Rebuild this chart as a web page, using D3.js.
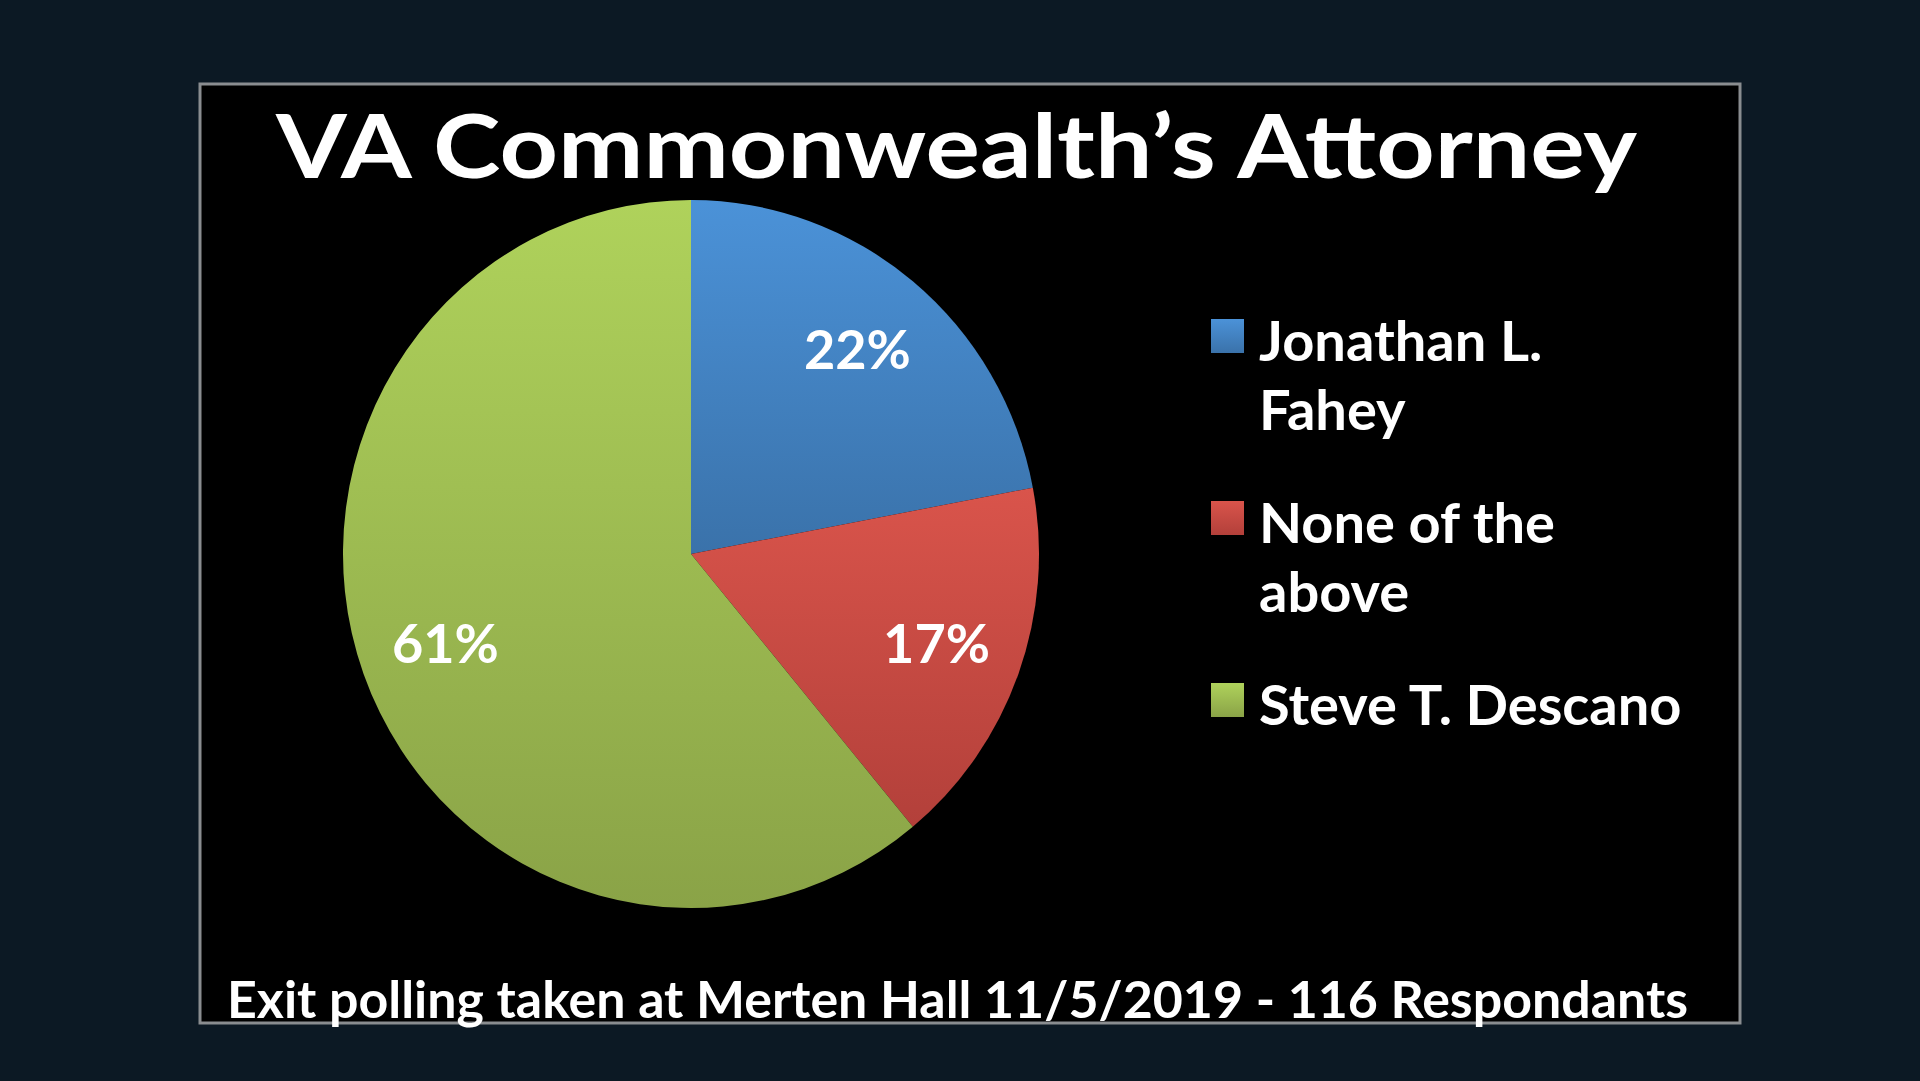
<!DOCTYPE html>
<html>
<head>
<meta charset="utf-8">
<script src="https://cdn.jsdelivr.net/npm/d3@7"></script>
<style>
  html, body { margin: 0; padding: 0; background: #0c1924; overflow: hidden; }
  svg { display: block; }
</style>
</head>
<body>
<script>
// Data
const candidates = ['Jonathan L. Fahey', 'None of the above', 'Steve T. Descano'];
const legendLines = [['Jonathan L.', 'Fahey'], ['None of the', 'above'], ['Steve T. Descano']];
const shares = [22, 17, 61];
const colorsTop = ['#4b92d8', '#d9544b', '#afd25b'];
const colorsBottom = ['#3a72aa', '#b3403a', '#8aa347'];
const titleText = 'VA Commonwealth\u2019s Attorney';
const footerText = 'Exit polling taken at Merten Hall 11/5/2019 - 116 Respondants';

const W = 1920, H = 1081;

const svg = d3.select('body').append('svg')
    .attr('width', W)
    .attr('height', H);

// outer background
svg.append('rect')
    .attr('width', W)
    .attr('height', H)
    .attr('fill', '#0c1924');

// black slide with grey border
svg.append('rect')
    .attr('x', 200)
    .attr('y', 84)
    .attr('width', 1540)
    .attr('height', 939)
    .attr('fill', '#000')
    .attr('stroke', '#8a8d90')
    .attr('stroke-width', 3);

// gradients for the slices
const defs = svg.append('defs');
candidates.forEach((c, i) => {
    const g = defs.append('linearGradient')
        .attr('id', 'grad' + i)
        .attr('x1', 0).attr('y1', 0)
        .attr('x2', 0).attr('y2', 1);
    g.append('stop').attr('offset', '0%').attr('stop-color', colorsTop[i]);
    g.append('stop').attr('offset', '100%').attr('stop-color', colorsBottom[i]);
});

// Title
svg.append('text')
    .attr('x', 276)
    .attr('y', 178)
    .attr('textLength', 1361)
    .attr('lengthAdjust', 'spacingAndGlyphs')
    .style('font-family', 'Lato, "Open Sans", sans-serif')
    .style('font-weight', 700)
    .style('font-size', '88px')
    .style('fill', '#fff')
    .text(titleText);

// Pie
const cx = 691, cy = 554, rx = 348, ry = 354;
const R = 351;

const pie = d3.pie().sort(null).value(d => d);
const arcs = pie(shares);

const arc = d3.arc()
    .innerRadius(0)
    .outerRadius(R);

const labelArc = d3.arc()
    .innerRadius(R * 0.75)
    .outerRadius(R * 0.75);

const pieG = svg.append('g')
    .attr('transform', `translate(${cx},${cy}) scale(${rx / R},${ry / R})`);

pieG.selectAll('path')
    .data(arcs)
    .enter()
    .append('path')
    .attr('d', arc)
    .attr('fill', (d, i) => `url(#grad${i})`);

// slice labels
svg.selectAll('.slice-label')
    .data(arcs)
    .enter()
    .append('text')
    .attr('class', 'slice-label')
    .attr('x', d => cx + labelArc.centroid(d)[0] * rx / R)
    .attr('y', d => cy + labelArc.centroid(d)[1] * ry / R)
    .attr('dy', '0.36em')
    .attr('text-anchor', 'middle')
    .style('font-family', 'Lato, "Open Sans", sans-serif')
    .style('font-weight', 700)
    .style('font-size', '54px')
    .style('fill', '#fff')
    .text(d => d.data + '%');

// Legend
const legend = svg.append('g')
    .attr('transform', 'translate(1211,319)');

const item = legend.selectAll('.item')
    .data(candidates)
    .enter()
    .append('g')
    .attr('class', 'item')
    .attr('transform', (d, i) => `translate(0,${i * 182})`);

item.append('rect')
    .attr('width', 33)
    .attr('height', 34)
    .attr('fill', (d, i) => `url(#grad${i})`);

item.each(function (d, i) {
    const t = d3.select(this).append('text')
        .style('font-family', 'Lato, "Open Sans", sans-serif')
        .style('font-weight', 700)
        .style('font-size', '56px')
        .style('fill', '#fff');
    legendLines[i].forEach((line, j) => {
        t.append('tspan')
            .attr('x', 48)
            .attr('y', 42 + j * 69)
            .text(line);
    });
});

// Footer
svg.append('text')
    .attr('x', 227)
    .attr('y', 1018)
    .attr('textLength', 1461)
    .attr('lengthAdjust', 'spacingAndGlyphs')
    .style('font-family', 'Lato, "Open Sans", sans-serif')
    .style('font-weight', 700)
    .style('font-size', '52px')
    .style('fill', '#fff')
    .text(footerText);
</script>
</body>
</html>
